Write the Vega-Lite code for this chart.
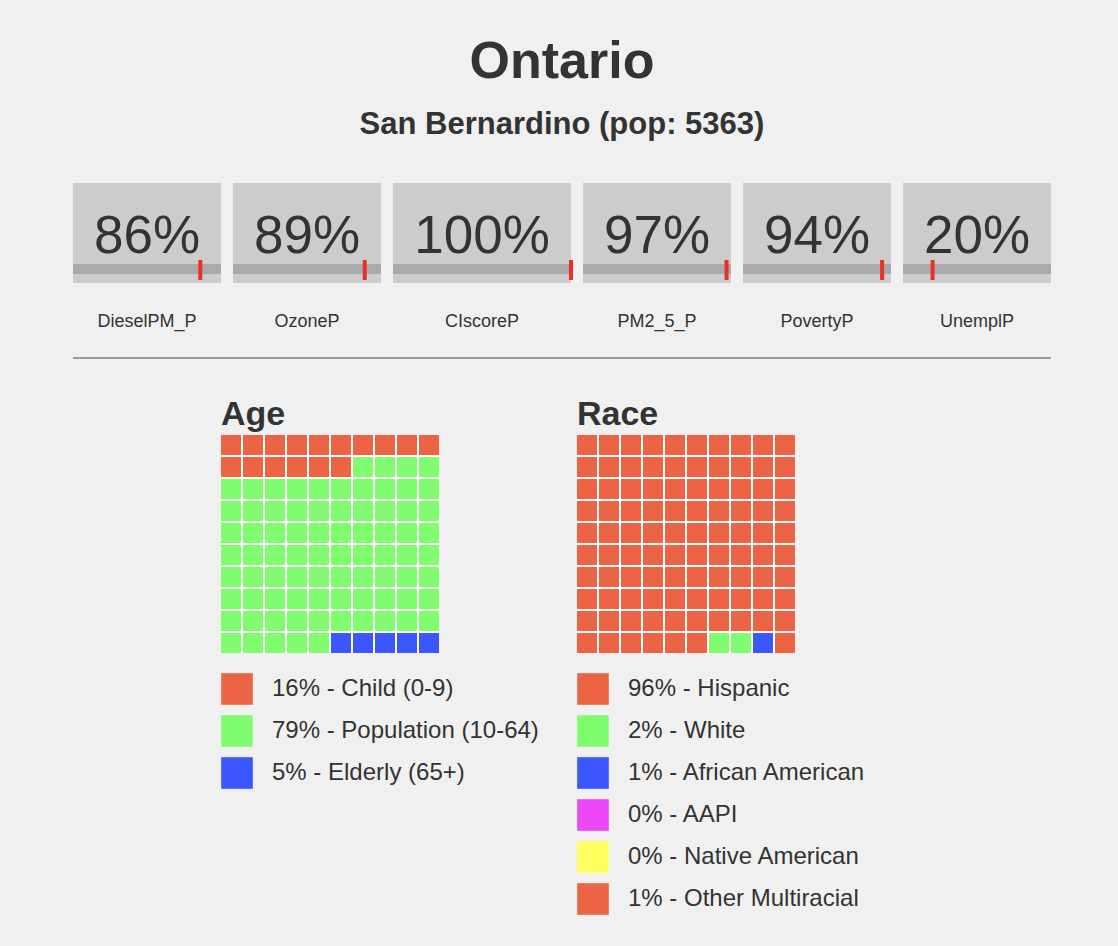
{
  "$schema": "https://vega.github.io/schema/vega-lite/v6.json",
  "background": "#f0f0f0",
  "padding": {"left": 72, "top": 36, "right": 66, "bottom": 31},
  "bounds": "full",
  "spacing": 0,
  "title": {
    "text": "Ontario",
    "subtitle": "San Bernardino (pop: 5363)",
    "fontSize": 52, "font": "Liberation Sans", "fontWeight": "bold", "color": "#333333",
    "subtitleFontSize": 31, "subtitleFont": "Liberation Sans", "subtitleFontWeight": "bold", "subtitleColor": "#333333",
    "subtitlePadding": 21, "offset": 42, "anchor": "middle", "baseline": "top"
  },
  "config": {"view": {"stroke": null}, "font": "Liberation Sans"},
  "resolve": {"scale": {"x": "independent", "y": "independent", "color": "independent"}},
  "datasets": {
    "gauges": [
      {"metric": "DieselPM_P", "value": 0.86},
      {"metric": "OzoneP", "value": 0.89},
      {"metric": "CIscoreP", "value": 1.0},
      {"metric": "PM2_5_P", "value": 0.97},
      {"metric": "PovertyP", "value": 0.94},
      {"metric": "UnemplP", "value": 0.20}
    ],
    "ageGroups": [
      {"k": "child", "label": "16% - Child (0-9)"},
      {"k": "pop", "label": "79% - Population (10-64)"},
      {"k": "eld", "label": "5% - Elderly (65+)"}
    ],
    "raceGroups": [
      {"k": "his", "label": "96% - Hispanic"},
      {"k": "wht", "label": "2% - White"},
      {"k": "afr", "label": "1% - African American"},
      {"k": "api", "label": "0% - AAPI"},
      {"k": "nat", "label": "0% - Native American"},
      {"k": "oth", "label": "1% - Other Multiracial"}
    ],
    "ageCells": [
      {"r":0,"c":0,"k":"child"},{"r":0,"c":1,"k":"child"},{"r":0,"c":2,"k":"child"},{"r":0,"c":3,"k":"child"},{"r":0,"c":4,"k":"child"},{"r":0,"c":5,"k":"child"},{"r":0,"c":6,"k":"child"},{"r":0,"c":7,"k":"child"},{"r":0,"c":8,"k":"child"},{"r":0,"c":9,"k":"child"},
      {"r":1,"c":0,"k":"child"},{"r":1,"c":1,"k":"child"},{"r":1,"c":2,"k":"child"},{"r":1,"c":3,"k":"child"},{"r":1,"c":4,"k":"child"},{"r":1,"c":5,"k":"child"},{"r":1,"c":6,"k":"pop"},{"r":1,"c":7,"k":"pop"},{"r":1,"c":8,"k":"pop"},{"r":1,"c":9,"k":"pop"},
      {"r":2,"c":0,"k":"pop"},{"r":2,"c":1,"k":"pop"},{"r":2,"c":2,"k":"pop"},{"r":2,"c":3,"k":"pop"},{"r":2,"c":4,"k":"pop"},{"r":2,"c":5,"k":"pop"},{"r":2,"c":6,"k":"pop"},{"r":2,"c":7,"k":"pop"},{"r":2,"c":8,"k":"pop"},{"r":2,"c":9,"k":"pop"},
      {"r":3,"c":0,"k":"pop"},{"r":3,"c":1,"k":"pop"},{"r":3,"c":2,"k":"pop"},{"r":3,"c":3,"k":"pop"},{"r":3,"c":4,"k":"pop"},{"r":3,"c":5,"k":"pop"},{"r":3,"c":6,"k":"pop"},{"r":3,"c":7,"k":"pop"},{"r":3,"c":8,"k":"pop"},{"r":3,"c":9,"k":"pop"},
      {"r":4,"c":0,"k":"pop"},{"r":4,"c":1,"k":"pop"},{"r":4,"c":2,"k":"pop"},{"r":4,"c":3,"k":"pop"},{"r":4,"c":4,"k":"pop"},{"r":4,"c":5,"k":"pop"},{"r":4,"c":6,"k":"pop"},{"r":4,"c":7,"k":"pop"},{"r":4,"c":8,"k":"pop"},{"r":4,"c":9,"k":"pop"},
      {"r":5,"c":0,"k":"pop"},{"r":5,"c":1,"k":"pop"},{"r":5,"c":2,"k":"pop"},{"r":5,"c":3,"k":"pop"},{"r":5,"c":4,"k":"pop"},{"r":5,"c":5,"k":"pop"},{"r":5,"c":6,"k":"pop"},{"r":5,"c":7,"k":"pop"},{"r":5,"c":8,"k":"pop"},{"r":5,"c":9,"k":"pop"},
      {"r":6,"c":0,"k":"pop"},{"r":6,"c":1,"k":"pop"},{"r":6,"c":2,"k":"pop"},{"r":6,"c":3,"k":"pop"},{"r":6,"c":4,"k":"pop"},{"r":6,"c":5,"k":"pop"},{"r":6,"c":6,"k":"pop"},{"r":6,"c":7,"k":"pop"},{"r":6,"c":8,"k":"pop"},{"r":6,"c":9,"k":"pop"},
      {"r":7,"c":0,"k":"pop"},{"r":7,"c":1,"k":"pop"},{"r":7,"c":2,"k":"pop"},{"r":7,"c":3,"k":"pop"},{"r":7,"c":4,"k":"pop"},{"r":7,"c":5,"k":"pop"},{"r":7,"c":6,"k":"pop"},{"r":7,"c":7,"k":"pop"},{"r":7,"c":8,"k":"pop"},{"r":7,"c":9,"k":"pop"},
      {"r":8,"c":0,"k":"pop"},{"r":8,"c":1,"k":"pop"},{"r":8,"c":2,"k":"pop"},{"r":8,"c":3,"k":"pop"},{"r":8,"c":4,"k":"pop"},{"r":8,"c":5,"k":"pop"},{"r":8,"c":6,"k":"pop"},{"r":8,"c":7,"k":"pop"},{"r":8,"c":8,"k":"pop"},{"r":8,"c":9,"k":"pop"},
      {"r":9,"c":0,"k":"pop"},{"r":9,"c":1,"k":"pop"},{"r":9,"c":2,"k":"pop"},{"r":9,"c":3,"k":"pop"},{"r":9,"c":4,"k":"pop"},{"r":9,"c":5,"k":"eld"},{"r":9,"c":6,"k":"eld"},{"r":9,"c":7,"k":"eld"},{"r":9,"c":8,"k":"eld"},{"r":9,"c":9,"k":"eld"}
    ],
    "raceCells": [
      {"r":0,"c":0,"k":"his"},{"r":0,"c":1,"k":"his"},{"r":0,"c":2,"k":"his"},{"r":0,"c":3,"k":"his"},{"r":0,"c":4,"k":"his"},{"r":0,"c":5,"k":"his"},{"r":0,"c":6,"k":"his"},{"r":0,"c":7,"k":"his"},{"r":0,"c":8,"k":"his"},{"r":0,"c":9,"k":"his"},
      {"r":1,"c":0,"k":"his"},{"r":1,"c":1,"k":"his"},{"r":1,"c":2,"k":"his"},{"r":1,"c":3,"k":"his"},{"r":1,"c":4,"k":"his"},{"r":1,"c":5,"k":"his"},{"r":1,"c":6,"k":"his"},{"r":1,"c":7,"k":"his"},{"r":1,"c":8,"k":"his"},{"r":1,"c":9,"k":"his"},
      {"r":2,"c":0,"k":"his"},{"r":2,"c":1,"k":"his"},{"r":2,"c":2,"k":"his"},{"r":2,"c":3,"k":"his"},{"r":2,"c":4,"k":"his"},{"r":2,"c":5,"k":"his"},{"r":2,"c":6,"k":"his"},{"r":2,"c":7,"k":"his"},{"r":2,"c":8,"k":"his"},{"r":2,"c":9,"k":"his"},
      {"r":3,"c":0,"k":"his"},{"r":3,"c":1,"k":"his"},{"r":3,"c":2,"k":"his"},{"r":3,"c":3,"k":"his"},{"r":3,"c":4,"k":"his"},{"r":3,"c":5,"k":"his"},{"r":3,"c":6,"k":"his"},{"r":3,"c":7,"k":"his"},{"r":3,"c":8,"k":"his"},{"r":3,"c":9,"k":"his"},
      {"r":4,"c":0,"k":"his"},{"r":4,"c":1,"k":"his"},{"r":4,"c":2,"k":"his"},{"r":4,"c":3,"k":"his"},{"r":4,"c":4,"k":"his"},{"r":4,"c":5,"k":"his"},{"r":4,"c":6,"k":"his"},{"r":4,"c":7,"k":"his"},{"r":4,"c":8,"k":"his"},{"r":4,"c":9,"k":"his"},
      {"r":5,"c":0,"k":"his"},{"r":5,"c":1,"k":"his"},{"r":5,"c":2,"k":"his"},{"r":5,"c":3,"k":"his"},{"r":5,"c":4,"k":"his"},{"r":5,"c":5,"k":"his"},{"r":5,"c":6,"k":"his"},{"r":5,"c":7,"k":"his"},{"r":5,"c":8,"k":"his"},{"r":5,"c":9,"k":"his"},
      {"r":6,"c":0,"k":"his"},{"r":6,"c":1,"k":"his"},{"r":6,"c":2,"k":"his"},{"r":6,"c":3,"k":"his"},{"r":6,"c":4,"k":"his"},{"r":6,"c":5,"k":"his"},{"r":6,"c":6,"k":"his"},{"r":6,"c":7,"k":"his"},{"r":6,"c":8,"k":"his"},{"r":6,"c":9,"k":"his"},
      {"r":7,"c":0,"k":"his"},{"r":7,"c":1,"k":"his"},{"r":7,"c":2,"k":"his"},{"r":7,"c":3,"k":"his"},{"r":7,"c":4,"k":"his"},{"r":7,"c":5,"k":"his"},{"r":7,"c":6,"k":"his"},{"r":7,"c":7,"k":"his"},{"r":7,"c":8,"k":"his"},{"r":7,"c":9,"k":"his"},
      {"r":8,"c":0,"k":"his"},{"r":8,"c":1,"k":"his"},{"r":8,"c":2,"k":"his"},{"r":8,"c":3,"k":"his"},{"r":8,"c":4,"k":"his"},{"r":8,"c":5,"k":"his"},{"r":8,"c":6,"k":"his"},{"r":8,"c":7,"k":"his"},{"r":8,"c":8,"k":"his"},{"r":8,"c":9,"k":"his"},
      {"r":9,"c":0,"k":"his"},{"r":9,"c":1,"k":"his"},{"r":9,"c":2,"k":"his"},{"r":9,"c":3,"k":"his"},{"r":9,"c":4,"k":"his"},{"r":9,"c":5,"k":"his"},{"r":9,"c":6,"k":"wht"},{"r":9,"c":7,"k":"wht"},{"r":9,"c":8,"k":"afr"},{"r":9,"c":9,"k":"oth"}
    ]
  },
  "vconcat": [
    {
      "hconcat": [
        {
          "width": 148, "height": 100,
          "view": {"fill": "#cccccc", "stroke": null},
          "data": {"name": "gauges"},
          "transform": [{"filter": "datum.metric === 'DieselPM_P'"}],
          "layer": [
            {"mark": {"type": "rect", "color": "#aaaaaa"}, "encoding": {"x": {"datum": 0, "type": "quantitative", "scale": {"domain": [0, 1]}, "axis": null}, "x2": {"datum": 1}, "y": {"value": 81}, "y2": {"value": 91}}},
            {"mark": {"type": "tick", "orient": "vertical", "color": "#e8321e", "thickness": 4, "size": 20, "opacity": 1}, "encoding": {"x": {"field": "value", "type": "quantitative", "scale": {"domain": [0, 1]}, "axis": null}, "y": {"value": 87}}},
            {"mark": {"type": "text", "fontSize": 53, "color": "#333333", "baseline": "alphabetic", "align": "center"}, "encoding": {"x": {"datum": 0.5, "type": "quantitative"}, "y": {"value": 70}, "text": {"field": "value", "type": "quantitative", "format": ".0%"}}},
            {"mark": {"type": "text", "fontSize": 18, "color": "#333333", "baseline": "middle", "align": "center"}, "encoding": {"x": {"datum": 0.5, "type": "quantitative"}, "y": {"value": 139}, "text": {"field": "metric"}}}
          ]
        },
        {
          "width": 148, "height": 100,
          "view": {"fill": "#cccccc", "stroke": null},
          "data": {"name": "gauges"},
          "transform": [{"filter": "datum.metric === 'OzoneP'"}],
          "layer": [
            {"mark": {"type": "rect", "color": "#aaaaaa"}, "encoding": {"x": {"datum": 0, "type": "quantitative", "scale": {"domain": [0, 1]}, "axis": null}, "x2": {"datum": 1}, "y": {"value": 81}, "y2": {"value": 91}}},
            {"mark": {"type": "tick", "orient": "vertical", "color": "#e8321e", "thickness": 4, "size": 20, "opacity": 1}, "encoding": {"x": {"field": "value", "type": "quantitative", "scale": {"domain": [0, 1]}, "axis": null}, "y": {"value": 87}}},
            {"mark": {"type": "text", "fontSize": 53, "color": "#333333", "baseline": "alphabetic", "align": "center"}, "encoding": {"x": {"datum": 0.5, "type": "quantitative"}, "y": {"value": 70}, "text": {"field": "value", "type": "quantitative", "format": ".0%"}}},
            {"mark": {"type": "text", "fontSize": 18, "color": "#333333", "baseline": "middle", "align": "center"}, "encoding": {"x": {"datum": 0.5, "type": "quantitative"}, "y": {"value": 139}, "text": {"field": "metric"}}}
          ]
        },
        {
          "width": 178, "height": 100,
          "view": {"fill": "#cccccc", "stroke": null},
          "data": {"name": "gauges"},
          "transform": [{"filter": "datum.metric === 'CIscoreP'"}],
          "layer": [
            {"mark": {"type": "rect", "color": "#aaaaaa"}, "encoding": {"x": {"datum": 0, "type": "quantitative", "scale": {"domain": [0, 1]}, "axis": null}, "x2": {"datum": 1}, "y": {"value": 81}, "y2": {"value": 91}}},
            {"mark": {"type": "tick", "orient": "vertical", "color": "#e8321e", "thickness": 4, "size": 20, "opacity": 1}, "encoding": {"x": {"field": "value", "type": "quantitative", "scale": {"domain": [0, 1]}, "axis": null}, "y": {"value": 87}}},
            {"mark": {"type": "text", "fontSize": 53, "color": "#333333", "baseline": "alphabetic", "align": "center"}, "encoding": {"x": {"datum": 0.5, "type": "quantitative"}, "y": {"value": 70}, "text": {"field": "value", "type": "quantitative", "format": ".0%"}}},
            {"mark": {"type": "text", "fontSize": 18, "color": "#333333", "baseline": "middle", "align": "center"}, "encoding": {"x": {"datum": 0.5, "type": "quantitative"}, "y": {"value": 139}, "text": {"field": "metric"}}}
          ]
        },
        {
          "width": 148, "height": 100,
          "view": {"fill": "#cccccc", "stroke": null},
          "data": {"name": "gauges"},
          "transform": [{"filter": "datum.metric === 'PM2_5_P'"}],
          "layer": [
            {"mark": {"type": "rect", "color": "#aaaaaa"}, "encoding": {"x": {"datum": 0, "type": "quantitative", "scale": {"domain": [0, 1]}, "axis": null}, "x2": {"datum": 1}, "y": {"value": 81}, "y2": {"value": 91}}},
            {"mark": {"type": "tick", "orient": "vertical", "color": "#e8321e", "thickness": 4, "size": 20, "opacity": 1}, "encoding": {"x": {"field": "value", "type": "quantitative", "scale": {"domain": [0, 1]}, "axis": null}, "y": {"value": 87}}},
            {"mark": {"type": "text", "fontSize": 53, "color": "#333333", "baseline": "alphabetic", "align": "center"}, "encoding": {"x": {"datum": 0.5, "type": "quantitative"}, "y": {"value": 70}, "text": {"field": "value", "type": "quantitative", "format": ".0%"}}},
            {"mark": {"type": "text", "fontSize": 18, "color": "#333333", "baseline": "middle", "align": "center"}, "encoding": {"x": {"datum": 0.5, "type": "quantitative"}, "y": {"value": 139}, "text": {"field": "metric"}}}
          ]
        },
        {
          "width": 148, "height": 100,
          "view": {"fill": "#cccccc", "stroke": null},
          "data": {"name": "gauges"},
          "transform": [{"filter": "datum.metric === 'PovertyP'"}],
          "layer": [
            {"mark": {"type": "rect", "color": "#aaaaaa"}, "encoding": {"x": {"datum": 0, "type": "quantitative", "scale": {"domain": [0, 1]}, "axis": null}, "x2": {"datum": 1}, "y": {"value": 81}, "y2": {"value": 91}}},
            {"mark": {"type": "tick", "orient": "vertical", "color": "#e8321e", "thickness": 4, "size": 20, "opacity": 1}, "encoding": {"x": {"field": "value", "type": "quantitative", "scale": {"domain": [0, 1]}, "axis": null}, "y": {"value": 87}}},
            {"mark": {"type": "text", "fontSize": 53, "color": "#333333", "baseline": "alphabetic", "align": "center"}, "encoding": {"x": {"datum": 0.5, "type": "quantitative"}, "y": {"value": 70}, "text": {"field": "value", "type": "quantitative", "format": ".0%"}}},
            {"mark": {"type": "text", "fontSize": 18, "color": "#333333", "baseline": "middle", "align": "center"}, "encoding": {"x": {"datum": 0.5, "type": "quantitative"}, "y": {"value": 139}, "text": {"field": "metric"}}}
          ]
        },
        {
          "width": 148, "height": 100,
          "view": {"fill": "#cccccc", "stroke": null},
          "data": {"name": "gauges"},
          "transform": [{"filter": "datum.metric === 'UnemplP'"}],
          "layer": [
            {"mark": {"type": "rect", "color": "#aaaaaa"}, "encoding": {"x": {"datum": 0, "type": "quantitative", "scale": {"domain": [0, 1]}, "axis": null}, "x2": {"datum": 1}, "y": {"value": 81}, "y2": {"value": 91}}},
            {"mark": {"type": "tick", "orient": "vertical", "color": "#e8321e", "thickness": 4, "size": 20, "opacity": 1}, "encoding": {"x": {"field": "value", "type": "quantitative", "scale": {"domain": [0, 1]}, "axis": null}, "y": {"value": 87}}},
            {"mark": {"type": "text", "fontSize": 53, "color": "#333333", "baseline": "alphabetic", "align": "center"}, "encoding": {"x": {"datum": 0.5, "type": "quantitative"}, "y": {"value": 70}, "text": {"field": "value", "type": "quantitative", "format": ".0%"}}},
            {"mark": {"type": "text", "fontSize": 18, "color": "#333333", "baseline": "middle", "align": "center"}, "encoding": {"x": {"datum": 0.5, "type": "quantitative"}, "y": {"value": 139}, "text": {"field": "metric"}}}
          ]
        }
      ],
      "spacing": 12,
      "bounds": "flush",
      "resolve": {"scale": {"x": "independent", "y": "independent"}}
    },
    {
      "width": 978, "height": 67,
      "data": {"values": [{"line": "divider"}]},
      "mark": {"type": "rule", "color": "#9a9a9a", "strokeWidth": 2},
      "encoding": {"x": {"value": 0}, "x2": {"value": "width"}, "y": {"value": 27}}
    },
    {
      "hconcat": [
        {
          "width": 10, "height": 218,
          "data": {"values": []},
          "mark": "point",
          "encoding": {}
        },
        {
          "width": 218, "height": 218,
          "view": {"fill": "#ffffff", "stroke": null},
          "title": {"text": "Age", "anchor": "start", "fontSize": 34, "fontWeight": "bold", "color": "#333333", "font": "Liberation Sans", "offset": 3, "baseline": "top"},
          "data": {"name": "ageCells"},
          "transform": [{"lookup": "k", "from": {"data": {"name": "ageGroups"}, "key": "k", "fields": ["label"]}}],
          "mark": {"type": "rect"},
          "encoding": {
            "x": {"field": "c", "type": "ordinal", "scale": {"paddingInner": 0.0909, "paddingOuter": 0}, "axis": null},
            "y": {"field": "r", "type": "ordinal", "scale": {"paddingInner": 0.0909, "paddingOuter": 0}, "axis": null},
            "color": {
              "field": "label", "type": "nominal",
              "scale": {"domain": ["16% - Child (0-9)", "79% - Population (10-64)", "5% - Elderly (65+)"], "range": ["#ec6443", "#80fd6f", "#3b57ff"]},
              "legend": {"orient": "none", "legendX": 0, "legendY": 238, "title": null, "symbolType": "square", "symbolSize": 1000, "symbolStrokeWidth": 0, "symbolOpacity": 1, "labelFontSize": 24, "labelColor": "#333333", "labelFont": "Liberation Sans", "rowPadding": 10, "labelOffset": 19, "padding": 0, "direction": "vertical", "labelLimit": 500}
            }
          }
        },
        {
          "width": 218, "height": 218,
          "view": {"fill": "#ffffff", "stroke": null},
          "title": {"text": "Race", "anchor": "start", "fontSize": 34, "fontWeight": "bold", "color": "#333333", "font": "Liberation Sans", "offset": 3, "baseline": "top"},
          "data": {"name": "raceCells"},
          "transform": [{"lookup": "k", "from": {"data": {"name": "raceGroups"}, "key": "k", "fields": ["label"]}}],
          "mark": {"type": "rect"},
          "encoding": {
            "x": {"field": "c", "type": "ordinal", "scale": {"paddingInner": 0.0909, "paddingOuter": 0}, "axis": null},
            "y": {"field": "r", "type": "ordinal", "scale": {"paddingInner": 0.0909, "paddingOuter": 0}, "axis": null},
            "color": {
              "field": "label", "type": "nominal",
              "scale": {"domain": ["96% - Hispanic", "2% - White", "1% - African American", "0% - AAPI", "0% - Native American", "1% - Other Multiracial"], "range": ["#ec6443", "#80fd6f", "#3b57ff", "#eb47f6", "#ffff60", "#ec6443"]},
              "legend": {"orient": "none", "legendX": 0, "legendY": 238, "title": null, "symbolType": "square", "symbolSize": 1000, "symbolStrokeWidth": 0, "symbolOpacity": 1, "labelFontSize": 24, "labelColor": "#333333", "labelFont": "Liberation Sans", "rowPadding": 10, "labelOffset": 19, "padding": 0, "direction": "vertical", "labelLimit": 500}
            }
          }
        }
      ],
      "spacing": 138,
      "bounds": "flush",
      "resolve": {"scale": {"x": "independent", "y": "independent", "color": "independent"}, "legend": {"color": "independent"}}
    }
  ]
}
